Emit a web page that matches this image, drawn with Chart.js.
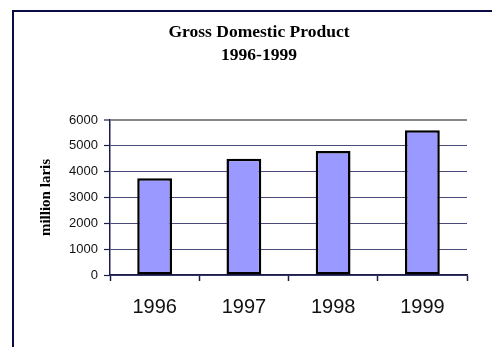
<!DOCTYPE html>
<html>
<head>
<meta charset="utf-8">
<script src="https://cdn.jsdelivr.net/npm/chart.js@4/dist/chart.umd.min.js"></script>
<style>
    html, body { margin: 0; padding: 0; background: #fff; }
    body { width: 492px; height: 347px; position: relative; overflow: hidden; }
    .frame {
        position: absolute; left: 12px; top: 10px; right: -10px; bottom: -10px;
        border-left: 2px solid #0c0c44; border-top: 2px solid #0c0c44;
    }
    .chart-box { position: absolute; left: 26px; top: 0; width: 466px; height: 347px; }
</style>
</head>
<body>
<div class="frame"></div>
<div class="chart-box"><canvas id="gdpChart" width="466" height="347"></canvas></div>
<script>
const years = ['1996', '1997', '1998', '1999'];
const gdpValues = [3750, 4500, 4800, 5600];
const yTicks = [0, 1000, 2000, 3000, 4000, 5000, 6000];
const titleLines = ['Gross Domestic Product', '1996-1999'];
const yAxisTitle = 'million laris';

document.addEventListener('DOMContentLoaded', function() {
    const ctx = document.getElementById('gdpChart');
    const yMax = yTicks[yTicks.length - 1];

    new Chart(ctx, {
        type: 'bar',
        data: {
            labels: years,
            datasets: [{
                data: gdpValues,
                backgroundColor: '#9999ff',
                borderColor: '#000000',
                borderWidth: 2.5,
                borderSkipped: false,
                barPercentage: 0.39,
                categoryPercentage: 1
            }]
        },
        options: {
            responsive: false,
            animation: false,
            devicePixelRatio: 1,
            // left padding keeps the main title centred like the original
            layout: { padding: { left: 25, right: 25, top: 0, bottom: 0 } },
            plugins: {
                legend: { display: false },
                tooltip: { enabled: false },
                title: {
                    display: true,
                    text: titleLines,
                    color: '#000',
                    font: { family: '"Liberation Serif", "Times New Roman", serif', size: 17.5, weight: 'bold', lineHeight: 1.3 },
                    padding: { top: 21, bottom: 53.5 }
                }
            },
            scales: {
                x: {
                    offset: true,
                    grid: {
                        offset: true,
                        drawOnChartArea: true,
                        color: c => c.index === years.length ? '#888888' : 'rgba(0,0,0,0)',
                        lineWidth: c => c.index === years.length ? 2 : 1,
                        tickColor: '#1c1c4c',
                        tickWidth: 1.5,
                        tickLength: 6
                    },
                    border: { display: true, color: '#1c1c4c', width: 1.5 },
                    ticks: {
                        color: '#111',
                        padding: 14,
                        font: { family: '"Liberation Sans", Arial, sans-serif', size: 20 }
                    },
                    afterFit: scale => { scale.height = 72; }
                },
                y: {
                    min: 0,
                    max: yMax,
                    afterBuildTicks: scale => { scale.ticks = yTicks.map(v => ({ value: v })); },
                    grid: {
                        color: c => c.tick && c.tick.value === yMax ? '#888888' : '#4a4a78',
                        lineWidth: c => c.tick && c.tick.value === yMax ? 2 : 1,
                        tickColor: '#1c1c4c',
                        tickWidth: 1.2,
                        tickLength: 6
                    },
                    border: { display: true, color: '#1c1c4c', width: 1.5 },
                    ticks: {
                        color: '#111',
                        padding: 6,
                        callback: value => String(value),
                        font: { family: '"Liberation Sans", Arial, sans-serif', size: 13 }
                    },
                    title: {
                        display: true,
                        text: yAxisTitle,
                        color: '#000',
                        font: { family: '"Liberation Serif", "Times New Roman", serif', size: 15, weight: 'bold' },
                        padding: { top: -14, bottom: 0 }
                    },
                    afterFit: scale => { scale.width = 59; }
                }
            }
        }
    });
});
</script>
</body>
</html>
